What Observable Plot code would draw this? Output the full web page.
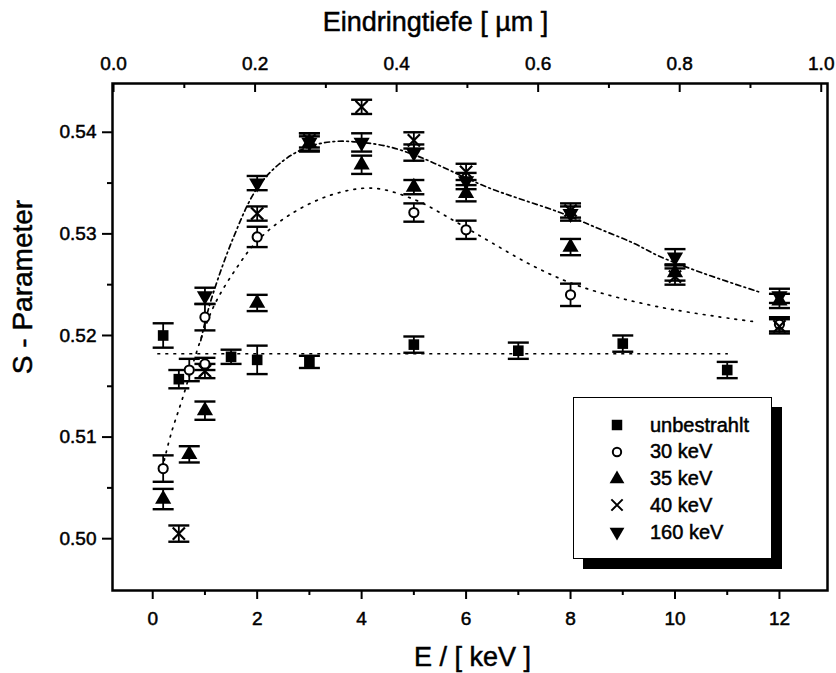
<!DOCTYPE html>
<html><head><meta charset="utf-8">
<script src="https://cdn.jsdelivr.net/npm/d3@7"></script>
<script src="https://cdn.jsdelivr.net/npm/@observablehq/plot@0.6"></script>
<style>
body{margin:0;background:#fff;}
#wrap{position:relative;width:836px;height:673px;font-family:'Liberation Sans',Arial,sans-serif;}
#wrap svg text{stroke:#000;stroke-width:0.5px;}
#legend{position:absolute;left:573px;top:397px;width:197px;height:160px;border:1.5px solid #000;background:#fff;box-shadow:10px 10px 0 #000;}
.row{position:absolute;left:0;width:190px;height:26px;display:flex;align-items:center;}
.row svg{margin-left:32px;width:22px;height:22px;}
.row span{margin-left:22px;font-size:20px;color:#000;-webkit-text-stroke:0.5px #000;}
</style></head>
<body><div id="wrap"><div id="legend"></div></div>
<script>
// ---- data ----
const seriesNames = ["unbestrahlt", "30 keV", "35 keV", "40 keV", "160 keV"];

const unbE = [0.2, 0.5, 1.5, 2, 3, 5, 7, 9, 11];
const unbS = [0.5200, 0.5157, 0.5179, 0.5176, 0.5174, 0.5191, 0.5185, 0.5192, 0.5166];
const unbErr = [0.0012, 0.0009, 0.0007, 0.0014, 0.0006, 0.0008, 0.0008, 0.0008, 0.0008];

const k30E = [0.2, 0.7, 1, 1, 2, 5, 6, 8, 12];
const k30S = [0.5069, 0.5166, 0.5172, 0.5218, 0.5297, 0.5321, 0.5304, 0.5240, 0.5211];
const k30Err = [0.0013, 0.0011, 0.0006, 0.0013, 0.0010, 0.0009, 0.0009, 0.0011, 0.0007];

const k35E = [0.2, 0.7, 1, 2, 3, 4, 5, 6, 8, 10, 12];
const k35S = [0.5039, 0.5083, 0.5126, 0.5232, 0.5389, 0.5368, 0.5346, 0.5340, 0.5287, 0.5262, 0.5234];
const k35Err = [0.0010, 0.0008, 0.0009, 0.0008, 0.0007, 0.0009, 0.0007, 0.0008, 0.0008, 0.0008, 0.0007];

const k40E = [0.5, 1, 2, 3, 4, 5, 6, 8, 10, 12];
const k40S = [0.5005, 0.5165, 0.5320, 0.5392, 0.5425, 0.5392, 0.5361, 0.5323, 0.5258, 0.5209];
const k40Err = [0.0008, 0.0007, 0.0007, 0.0007, 0.0007, 0.0008, 0.0008, 0.0007, 0.0008, 0.0007];

const k160E = [1, 2, 3, 4, 5, 6, 8, 10, 12];
const k160S = [0.5239, 0.5350, 0.5390, 0.5390, 0.5380, 0.5352, 0.5320, 0.5277, 0.5239];
const k160Err = [0.0008, 0.0007, 0.0009, 0.0009, 0.0008, 0.0008, 0.0007, 0.0008, 0.0007];

// guide curves
const flatE = [0.1, 11.0];
const flatS = [0.5182, 0.5182];
const fit30E = [0.22, 0.35, 0.57, 0.92, 1.2, 1.6, 2.0, 2.6, 3.4, 4.2, 5.0, 5.8, 6.5, 7.3, 8.2, 9.7, 11.6];
const fit30S = [0.5077, 0.5103, 0.5138, 0.5196, 0.5232, 0.5266, 0.5293, 0.5318, 0.5338, 0.5345, 0.5334, 0.5312, 0.5291, 0.5268, 0.5248, 0.5228, 0.5213];
const fit160E = [0.92, 1.1, 1.55, 2.0, 2.5, 3.0, 3.5, 4.0, 4.5, 5.0, 5.5, 6.0, 6.5, 7.0, 7.8, 8.5, 9.2, 9.7, 10.5, 11.6];
const fit160S = [0.5195, 0.5232, 0.5297, 0.5345, 0.5372, 0.5386, 0.5391, 0.5390, 0.5386, 0.5378, 0.5367, 0.5355, 0.5344, 0.5335, 0.5321, 0.5306, 0.5291, 0.5278, 0.5262, 0.5243];

// axes
const xMajor = [0, 2, 4, 6, 8, 10, 12];
const xMinor = [1, 3, 5, 7, 9, 11];
const yMajor = [0.50, 0.51, 0.52, 0.53, 0.54];
const yMinor = [0.505, 0.515, 0.525, 0.535];
const depthMajor = [0.0, 0.2, 0.4, 0.6, 0.8, 1.0];
const depthMinor = [0.1, 0.3, 0.5, 0.7, 0.9];
const depthE0 = -0.75, depthE1 = 12.80; // E-axis positions of depth 0 and 1 µm
const toE = d => depthE0 + d * (depthE1 - depthE0);
const fromE = e => (e - depthE0) / (depthE1 - depthE0);

const titleX = "E / [ keV ]";
const titleTop = "Eindringtiefe [ µm ]";
const titleY = "S - Parameter";

// ---- build tables ----
const rows = (E, S, Err) => E.map((e, i) => ({E: e, S: S[i], err: Err[i]}));
const unb = rows(unbE, unbS, unbErr);
const k30 = rows(k30E, k30S, k30Err);
const k35 = rows(k35E, k35S, k35Err);
const k40 = rows(k40E, k40S, k40Err);
const k160 = rows(k160E, k160S, k160Err);
const pts = (E, S) => E.map((e, i) => ({E: e, S: S[i]}));
const all = [...k30, ...unb, ...k35, ...k40, ...k160];

const cap = {draw(ctx, size) { const w = Math.sqrt(size / Math.PI); ctx.moveTo(-w, 0); ctx.lineTo(w, 0); }};

const frameH = 673 - 83 - 83;

const chart = Plot.plot({
  width: 836, height: 673,
  marginLeft: 112, marginRight: 9, marginTop: 83, marginBottom: 83,
  style: {fontFamily: "'Liberation Sans', Arial, sans-serif", fontSize: "19px", color: "#000", background: "transparent"},
  x: {domain: [-0.77, 12.92]},
  y: {domain: [0.4949, 0.5448]},
  marks: [
    // guide curves
    Plot.line(pts(flatE, flatS), {x: "E", y: "S", stroke: "#000", strokeWidth: 1.7, strokeDasharray: "1.7,6.3"}),
    Plot.line(pts(fit30E, fit30S), {x: "E", y: "S", curve: "catmull-rom", stroke: "#000", strokeWidth: 1.7, strokeDasharray: "1.7,6.3"}),
    Plot.line(pts(fit160E, fit160S), {x: "E", y: "S", curve: "catmull-rom", stroke: "#000", strokeWidth: 1.7, strokeDasharray: "5,3.5,1.7,3.5"}),
    // error bars
    Plot.ruleX(all, {x: "E", y1: d => d.S - d.err, y2: d => d.S + d.err, stroke: "#000", strokeWidth: 1.8}),
    Plot.dot(all, {x: "E", y: d => d.S + d.err, symbol: cap, r: 10.5, fill: "none", stroke: "#000", strokeWidth: 2.4}),
    Plot.dot(all, {x: "E", y: d => d.S - d.err, symbol: cap, r: 10.5, fill: "none", stroke: "#000", strokeWidth: 2.4}),
    // markers
    Plot.dot(k30, {x: "E", y: "S", symbol: "circle", r: 4.6, fill: "#fff", stroke: "#000", strokeWidth: 2}),
    Plot.dot(unb, {x: "E", y: "S", symbol: "square", r: 6, fill: "#000", stroke: "none"}),
    Plot.dot(k35, {x: "E", y: "S", symbol: "triangle", r: 6, fill: "#000", stroke: "none"}),
    Plot.dot(k40, {x: "E", y: "S", symbol: "times", r: 5.6, fill: "none", stroke: "#000", strokeWidth: 2.2}),
    Plot.dot(k160, {x: "E", y: "S", symbol: "triangle", rotate: 180, r: 6, fill: "#000", stroke: "none"}),
    // axes
    Plot.axisX(xMajor, {anchor: "bottom", tickSize: 9, tickPadding: 12, strokeWidth: 2, fontSize: 19, label: null, tickFormat: d => String(d)}),
    Plot.axisX(xMinor, {anchor: "bottom", tickSize: 5, strokeWidth: 2, label: null, tickFormat: () => ""}),
    Plot.axisY(yMajor, {anchor: "left", tickSize: 10, tickPadding: 6, strokeWidth: 2, fontSize: 19, label: null, tickFormat: d => d.toFixed(2)}),
    Plot.axisY(yMinor, {anchor: "left", tickSize: 5, strokeWidth: 2, label: null, tickFormat: () => ""}),
    Plot.axisX(depthMajor.map(toE), {anchor: "top", tickSize: 0, tickPadding: 14, fontSize: 19, label: null, tickFormat: e => fromE(e).toFixed(1)}),
    Plot.tickX(depthMajor.map(toE), {x: d => d, insetBottom: frameH - 9, stroke: "#000", strokeWidth: 2}),
    Plot.tickX(depthMinor.map(toE), {x: d => d, insetBottom: frameH - 5, stroke: "#000", strokeWidth: 2}),
    Plot.frame({stroke: "#000", strokeWidth: 2.5}),
    // titles
    Plot.text([titleX], {text: d => d, frameAnchor: "bottom", textAnchor: "middle", lineAnchor: "middle", dx: 2.5, dy: 67, fontSize: 27}),
    Plot.text([titleTop], {text: d => d, frameAnchor: "top", textAnchor: "middle", lineAnchor: "middle", dx: -34.5, dy: -61, fontSize: 27}),
    Plot.text([titleY], {text: d => d, frameAnchor: "left", textAnchor: "middle", lineAnchor: "middle", rotate: -90, dx: -89, dy: -50, fontSize: 28})
  ]
});
const wrap = document.getElementById("wrap");
wrap.insertBefore(chart, wrap.firstChild);
chart.style.position = "absolute"; chart.style.left = "0"; chart.style.top = "0";

// ---- legend ----
const legendSymbols = [
  {type: d3.symbolSquare, size: 110, fill: "#000", stroke: "none", rot: 0},
  {type: d3.symbolCircle, size: 55, fill: "#fff", stroke: "#000", rot: 0},
  {type: d3.symbolTriangle, size: 95, fill: "#000", stroke: "none", rot: 0},
  {type: d3.symbolTimes, size: 85, fill: "none", stroke: "#000", rot: 0},
  {type: d3.symbolTriangle, size: 95, fill: "#000", stroke: "none", rot: 180}
];
const legend = d3.select("#legend");
seriesNames.forEach((name, i) => {
  const row = legend.append("div").attr("class", "row").style("top", (14 + i * 26.8) + "px");
  const s = legendSymbols[i];
  const svg = row.append("svg").attr("viewBox", "-11 -11 22 22");
  svg.append("path").attr("d", d3.symbol(s.type, s.size)())
    .attr("transform", `rotate(${s.rot})`)
    .attr("fill", s.fill).attr("stroke", s.stroke).attr("stroke-width", 2);
  row.append("span").text(name);
});
</script></body></html>
